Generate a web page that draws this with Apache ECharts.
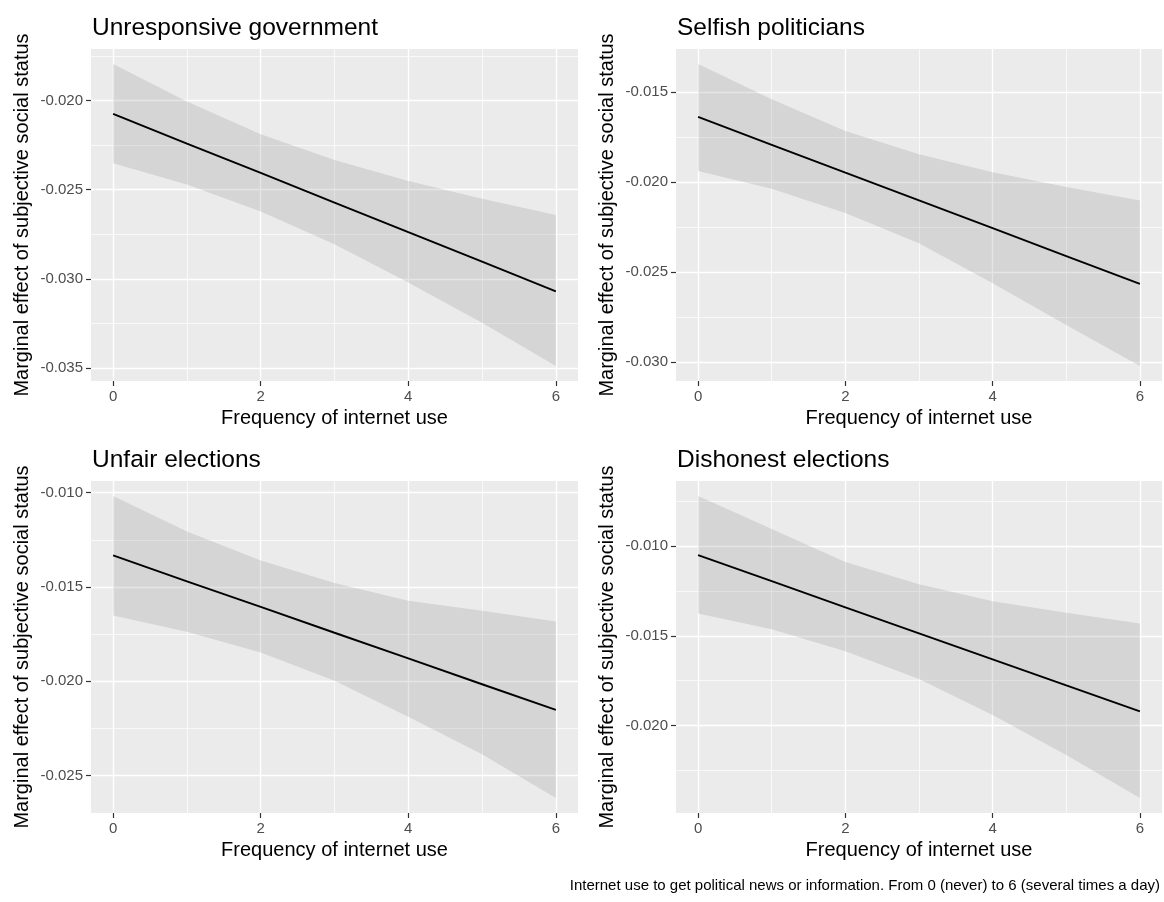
<!DOCTYPE html>
<html><head><meta charset="utf-8">
<script src="https://cdn.jsdelivr.net/npm/echarts@6/dist/echarts.min.js"></script>
<style>html,body{margin:0;padding:0;background:#fff}#c{width:1164px;height:902px}</style>
</head><body><div id="c"></div>
<script>
// ---- data ----
const panelTitles = ['Unresponsive government', 'Selfish politicians', 'Unfair elections', 'Dishonest elections'];
const xLabel = 'Frequency of internet use';
const yLabel = 'Marginal effect of subjective social status';
const caption = 'Internet use to get political news or information. From 0 (never) to 6 (several times a day)';
const xValues = [0, 1, 2, 3, 4, 5, 6];
const xTicks = [0, 2, 4, 6];
const xMinorTicks = [1, 3, 5];

const est1 = [-0.02075, -0.02241, -0.02406, -0.02572, -0.02738, -0.02903, -0.03069];
const upper1 = [-0.01796, -0.02005, -0.02189, -0.02333, -0.02451, -0.02551, -0.02642];
const lower1 = [-0.02352, -0.02470, -0.02622, -0.02806, -0.03020, -0.03245, -0.03487];
const yTicks1 = [-0.035, -0.030, -0.025, -0.020];
const yMinor1 = [-0.0325, -0.0275, -0.0225, -0.0175];

const est2 = [-0.01638, -0.01793, -0.01948, -0.02102, -0.02257, -0.02412, -0.02567];
const upper2 = [-0.01344, -0.01539, -0.01716, -0.01846, -0.01945, -0.02028, -0.02103];
const lower2 = [-0.01939, -0.02038, -0.02173, -0.02340, -0.02563, -0.02796, -0.03023];
const yTicks2 = [-0.030, -0.025, -0.020, -0.015];
const yMinor2 = [-0.0275, -0.0225, -0.0175];

const est3 = [-0.01333, -0.01470, -0.01606, -0.01743, -0.01879, -0.02016, -0.02152];
const upper3 = [-0.01018, -0.01206, -0.01360, -0.01479, -0.01573, -0.01626, -0.01683];
const lower3 = [-0.01652, -0.01738, -0.01848, -0.01998, -0.02188, -0.02388, -0.02619];
const yTicks3 = [-0.025, -0.020, -0.015, -0.010];
const yMinor3 = [-0.0225, -0.0175, -0.0125];

const est4 = [-0.01050, -0.01195, -0.01341, -0.01486, -0.01631, -0.01777, -0.01922];
const upper4 = [-0.00721, -0.00905, -0.01088, -0.01213, -0.01307, -0.01372, -0.01432];
const lower4 = [-0.01376, -0.01464, -0.01586, -0.01741, -0.01941, -0.02165, -0.02404];
const yTicks4 = [-0.020, -0.015, -0.010];
const yMinor4 = [-0.0225, -0.0175, -0.0125, -0.0075];

// ---- layout ----
const FONT = '"Liberation Sans", Arial, sans-serif';
const panels = [
  {est: est1, up: upper1, lo: lower1, yt: yTicks1, ym: yMinor1, left: 91, top: 49},
  {est: est2, up: upper2, lo: lower2, yt: yTicks2, ym: yMinor2, left: 676, top: 49},
  {est: est3, up: upper3, lo: lower3, yt: yTicks3, ym: yMinor3, left: 91, top: 481},
  {est: est4, up: upper4, lo: lower4, yt: yTicks4, ym: yMinor4, left: 676, top: 481}
];
const PW = 487, PH = 332;

const grid = [], xAxis = [], yAxis = [], series = [], title = [];
panels.forEach((p, i) => {
  const hi = Math.max(...p.up), lo = Math.min(...p.lo);
  const pad = (hi - lo) * 0.05;
  const ymin = lo - pad, ymax = hi + pad;
  const xmin = -0.3, xmax = 6.3;
  grid.push({left: p.left, top: p.top, width: i % 2 ? PW - 1 : PW, height: PH,
    show: true, backgroundColor: '#EBEBEB', borderWidth: 0, outerBoundsMode: 'none', containLabel: false});
  // major x
  xAxis.push({type: 'value', gridIndex: i, min: xmin, max: xmax, position: 'bottom',
    name: xLabel, nameLocation: 'middle', nameGap: 27,
    nameTextStyle: {fontFamily: FONT, fontSize: 20, color: '#000'},
    axisLine: {show: false, onZero: false},
    axisTick: {show: true, length: 5, customValues: xTicks, lineStyle: {color: '#333', width: 1.2}},
    axisLabel: {show: true, customValues: xTicks, margin: 8, fontFamily: FONT, fontSize: 15, color: '#4D4D4D'},
    splitLine: {show: true, lineStyle: {color: '#FFFFFF', width: 1.4}}});
  // minor x
  xAxis.push({type: 'value', gridIndex: i, min: xmin, max: xmax, position: 'top',
    axisLine: {show: false, onZero: false}, axisTick: {show: false, customValues: xMinorTicks},
    axisLabel: {show: false}, splitLine: {show: true, lineStyle: {color: '#FFFFFF', width: 0.7}}});
  // major y
  yAxis.push({type: 'value', gridIndex: i, min: ymin, max: ymax, position: 'left',
    name: yLabel, nameLocation: 'middle', nameGap: 59,
    nameTextStyle: {fontFamily: FONT, fontSize: 20, color: '#000'},
    axisLine: {show: false, onZero: false},
    axisTick: {show: true, length: 5, customValues: p.yt, lineStyle: {color: '#333', width: 1.2}},
    axisLabel: {show: true, customValues: p.yt, margin: 8, fontFamily: FONT, fontSize: 15, color: '#4D4D4D',
      formatter: v => v.toFixed(3)},
    splitLine: {show: true, lineStyle: {color: '#FFFFFF', width: 1.4}}});
  // minor y
  yAxis.push({type: 'value', gridIndex: i, min: ymin, max: ymax, position: 'right',
    axisLine: {show: false, onZero: false}, axisTick: {show: false, customValues: p.ym},
    axisLabel: {show: false}, splitLine: {show: true, lineStyle: {color: '#FFFFFF', width: 0.7}}});

  series.push({type: 'custom', xAxisIndex: 2 * i, yAxisIndex: 2 * i, clip: true, silent: true,
    data: [[xValues[0], p.est[0]]],
    renderItem: (params, api) => {
      const pts = [];
      for (let k = 0; k < xValues.length; k++) pts.push(api.coord([xValues[k], p.up[k]]));
      for (let k = xValues.length - 1; k >= 0; k--) pts.push(api.coord([xValues[k], p.lo[k]]));
      return {type: 'polygon', shape: {points: pts}, style: {fill: 'rgba(127,127,127,0.2)', stroke: 'none'}};
    }, z: 2});
  series.push({type: 'line', xAxisIndex: 2 * i, yAxisIndex: 2 * i, showSymbol: false, silent: true,
    data: xValues.map((x, k) => [x, p.est[k]]),
    lineStyle: {color: '#000', width: 1.9}, z: 3});

  title.push({text: panelTitles[i], left: p.left + 1, top: p.top - 33,
    textStyle: {fontFamily: FONT, fontSize: 24.5, fontWeight: 'normal', color: '#000'}, padding: 0});
});
title.push({text: caption, right: 4, top: 878,
  textStyle: {fontFamily: FONT, fontSize: 15, fontWeight: 'normal', color: '#000'}, padding: 0});

const chart = echarts.init(document.getElementById('c'), null, {renderer: 'canvas'});
chart.setOption({animation: false, backgroundColor: '#fff', title, grid, xAxis, yAxis, series});
</script>
</body></html>
